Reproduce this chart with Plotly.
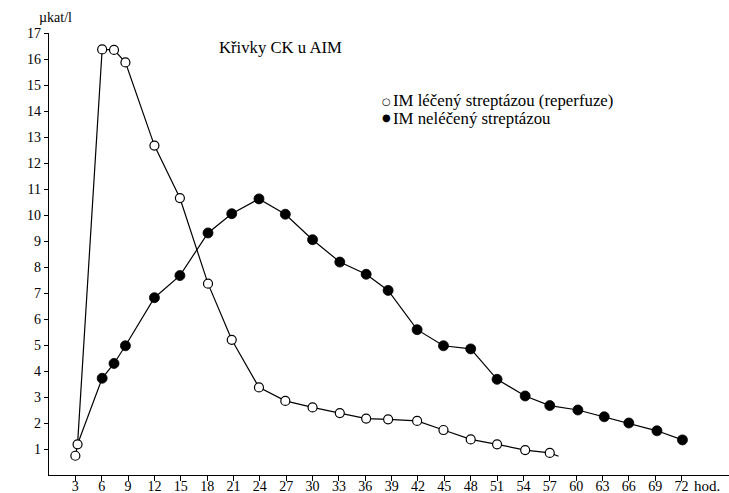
import plotly.graph_objects as go

# Reperfused (open circles)
x_open = [3, 3.25, 6.05, 7.4, 8.7, 12.0, 14.9, 18.1, 20.8, 23.9, 26.9, 30.0, 33.1, 36.1, 38.6, 41.9, 44.9, 48.0, 51.0, 54.2, 57.0, 58.0]
y_open = [0.74, 1.18, 16.37, 16.35, 15.87, 12.67, 10.65, 7.36, 5.2, 3.37, 2.85, 2.6, 2.38, 2.17, 2.14, 2.08, 1.73, 1.37, 1.18, 0.96, 0.85, 0.72]

# Not treated (filled circles)
x_fill = [3.25, 6.05, 7.4, 8.7, 12.0, 14.9, 18.1, 20.8, 23.9, 26.9, 30.0, 33.1, 36.1, 38.6, 41.9, 44.9, 48.0, 51.0, 54.2, 57.0, 60.2, 63.2, 66.0, 69.2, 72.1]
y_fill = [1.18, 3.72, 4.29, 4.97, 6.82, 7.67, 9.31, 10.05, 10.62, 10.03, 9.05, 8.19, 7.72, 7.1, 5.59, 4.97, 4.85, 3.68, 3.04, 2.67, 2.5, 2.24, 2.0, 1.7, 1.35]

x_ticks = list(range(3, 73, 3))
y_ticks = list(range(1, 18))

FONT = "Liberation Serif"

fig = go.Figure()
fig.add_trace(go.Scatter(
    x=x_fill, y=y_fill, mode="lines+markers",
    line=dict(color="#000000", width=1.2),
    marker=dict(size=[0] + [10] * (len(x_fill) - 1), color="#000000", symbol="circle",
                opacity=1, line=dict(color="#000000", width=0.8)),
    showlegend=False, cliponaxis=False))
fig.add_trace(go.Scatter(
    x=x_open, y=y_open, mode="lines+markers",
    line=dict(color="#000000", width=1.2),
    marker=dict(size=[9] * (len(x_open) - 1) + [0], color="#ffffff", opacity=1,
                line=dict(color="#000000", width=1.2), symbol="circle"),
    showlegend=False, cliponaxis=False))

fig.update_layout(
    width=729, height=493,
    margin=dict(l=49, r=0, t=33, b=18),
    plot_bgcolor="white", paper_bgcolor="white",
    font=dict(family=FONT, size=14, color="black"),
    xaxis=dict(range=[0, 77.4], tickvals=x_ticks, ticktext=[str(v) for v in x_ticks],
               automargin=False,
               showgrid=False, zeroline=False, showline=True, linecolor="black", linewidth=1.3,
               ticks="outside", ticklen=5, tickwidth=1, tickcolor="black",
               ticklabelstandoff=-7,
               tickfont=dict(family=FONT, size=14, color="black")),
    yaxis=dict(range=[0, 17], tickvals=y_ticks, ticktext=[str(v) for v in y_ticks],
               automargin=False,
               showgrid=False, zeroline=False, showline=True, linecolor="black", linewidth=1.3,
               ticks="outside", ticklen=4, tickwidth=1, tickcolor="black",
               tickfont=dict(family=FONT, size=14, color="black")),
    annotations=[
        dict(text="µkat/l", x=37, y=18, xref="paper", yref="paper", showarrow=False,
             font=dict(family=FONT, size=14)),
        dict(text="Křivky CK u AIM", x=217, y=47, xanchor="left", showarrow=False,
             font=dict(family=FONT, size=16.7)),
        dict(text="○", x=386, y=101, xanchor="center", showarrow=False, borderpad=0,
             font=dict(family="DejaVu Sans", size=10)),
        dict(text="IM léčený streptázou (reperfuze)", x=392, y=100.5, xanchor="left", showarrow=False,
             borderpad=0, font=dict(family=FONT, size=16.8)),
        dict(text="●", x=386, y=118, xanchor="center", showarrow=False, borderpad=0,
             font=dict(family="DejaVu Sans", size=10)),
        dict(text="IM neléčený streptázou", x=392, y=118.5, xanchor="left", showarrow=False,
             borderpad=0, font=dict(family=FONT, size=16.8)),
        dict(text="hod.", x=74.9, y=0, xref="x", yref="y", yshift=-11, showarrow=False,
             font=dict(family=FONT, size=15)),
    ],
)

W, H = 729, 493
l, r, t, b = 49, 0, 33, 18
pw, ph = W - l - r, H - t - b
new_ann = []
for a in fig.layout.annotations:
    a = a.to_plotly_json()
    if a.get("xref") != "x":
        px, py = a["x"], a["y"]
        a["x"] = (px - l) / pw
        a["y"] = 1 - (py - t) / ph
        a["xref"] = "paper"
        a["yref"] = "paper"
        a["yanchor"] = "middle"
    new_ann.append(a)
fig.layout.annotations = new_ann

fig.write_html("out.html", config={"displayModeBar": False},
               post_script="document.body.style.margin='0';document.body.style.overflow='hidden';")
